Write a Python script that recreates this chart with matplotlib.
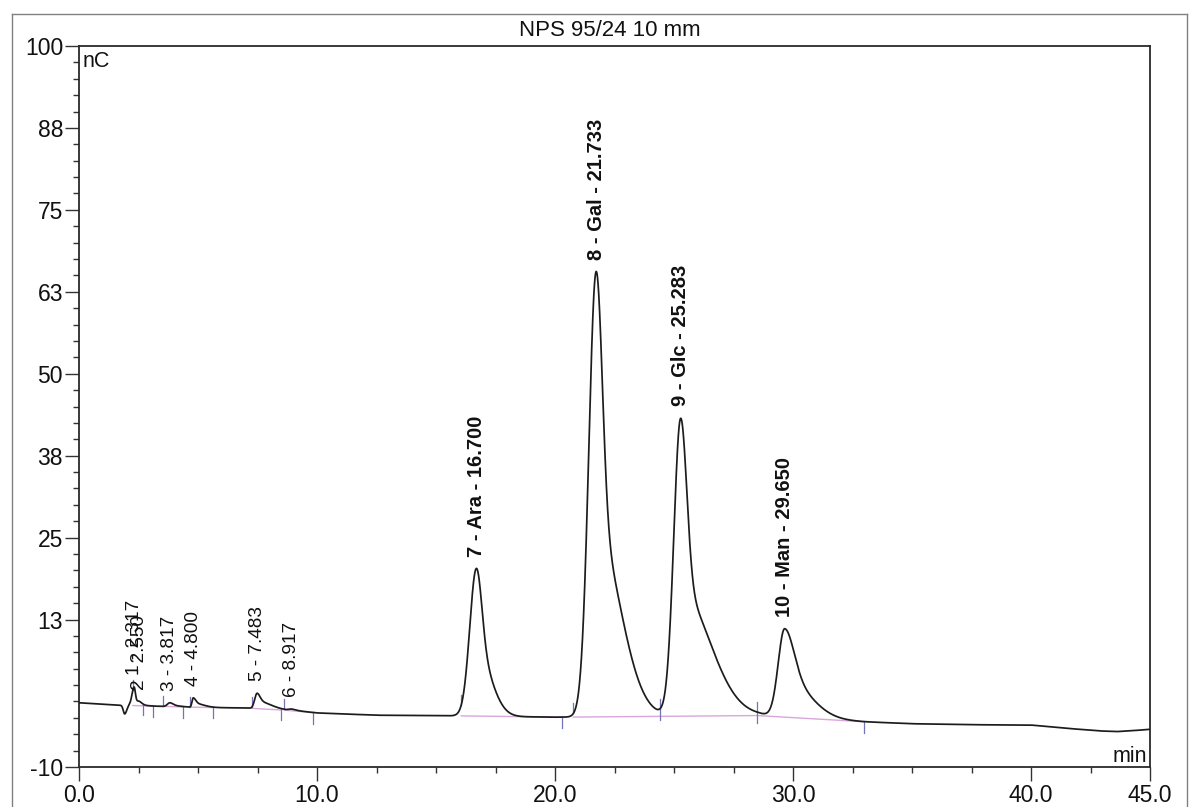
import numpy as np
import matplotlib
matplotlib.use("Agg")
import matplotlib.pyplot as plt
from matplotlib.lines import Line2D
from matplotlib import font_manager as fm
from matplotlib.ticker import FixedLocator, MultipleLocator

plt.rcParams["font.family"] = ["Liberation Sans", "DejaVu Sans"]

# ---- chromatogram data -------------------------------------------------
title = "NPS 95/24 10 mm"

# detector baseline drift (min, nC)
baseline_times = [0, 1.5, 3, 5, 7, 9, 10, 12.5, 16, 20, 24, 28.5, 33, 35, 37.5,
                  40, 41.5, 42.9, 43.6, 44.3, 45]
baseline_levels = [-0.2, -0.55, -0.7, -0.9, -1.0, -1.4, -1.75, -2.1, -2.2, -2.4,
                   -2.3, -2.15, -3.1, -3.4, -3.55, -3.6, -4.1, -4.5, -4.6, -4.45,
                   -4.25]

# peak table: retention time, apex signal, label (first entry = injection dip)
peak_times = [1.92, 2.317, 2.550, 3.817, 4.800, 7.483, 8.917,
              16.700, 21.733, 25.283, 29.650]
peak_apex = [-1.9, 2.2, 0.0, -0.2, 0.55, 1.25, -1.15,
             20.3, 65.6, 43.2, 11.1]
peak_labels = ["", "1 - 2.317", "2 - 2.550", "3 - 3.817", "4 - 4.800",
               "5 - 7.483", "6 - 8.917", "7 - Ara - 16.700",
               "8 - Gal - 21.733", "9 - Glc - 25.283", "10 - Man - 29.650"]
# peak shape: front width, back width, tail fraction, tail width (min)
peak_front = [0.06, 0.09, 0.08, 0.10, 0.05, 0.10, 0.10, 0.28, 0.31, 0.29, 0.27]
peak_back = [0.08, 0.05, 0.10, 0.12, 0.10, 0.12, 0.15, 0.22, 0.25, 0.25, 0.38]
tail_frac = [0.0, 0.25, 0.30, 0.40, 0.45, 0.50, 0.40, 0.45, 0.42, 0.42, 0.45]
tail_width = [0.10, 0.20, 0.30, 0.35, 0.40, 0.55, 0.40, 0.58, 0.98, 1.20, 1.00]

# integration events (min)
start_marks = [2.26, 3.55, 4.67, 7.26, 8.63, 16.06, 20.77, 24.40, 28.50]
end_marks = [2.71, 3.13, 4.39, 5.65, 8.49, 9.83, 20.30, 24.40, 28.50, 33.00]
integ_from = [2.26, 3.55, 4.67, 7.26, 8.63, 16.06, 20.77, 28.50]
integ_to = [3.13, 4.39, 5.65, 8.49, 9.83, 20.30, 28.50, 33.00]

# axis ticks
x_major = [0, 10, 20, 30, 40, 45]
x_major_labels = ["0.0", "10.0", "20.0", "30.0", "40.0", "45.0"]
y_major = [100, 87.5, 75, 62.5, 50, 37.5, 25, 12.5, -10]
y_major_labels = ["100", "88", "75", "63", "50", "38", "25", "13", "-10"]


# ---- build the trace ---------------------------------------------------
def shape(t, rt, sl, sr, f, st):
    dt = np.asarray(t, dtype=float) - rt
    front = np.exp(-0.5 * (dt / sl) ** 2)
    back = (1 - f) * np.exp(-0.5 * (dt / sr) ** 2) + f * np.exp(-0.5 * (dt / st) ** 2)
    return np.where(dt < 0, front, back)


n = len(peak_times)
params = list(zip(peak_times, peak_front, peak_back, tail_frac, tail_width))
A = np.array([[shape(peak_times[i], *params[j]) for j in range(n)] for i in range(n)])
rhs = np.array(peak_apex) - np.interp(peak_times, baseline_times, baseline_levels)
heights = np.linalg.solve(A, rhs)

t = np.linspace(0, 45, 9001)
drift = np.interp(t, baseline_times, baseline_levels)
signal = drift.copy()
for h, p in zip(heights, params):
    signal = signal + h * shape(t, *p)

# ---- figure ------------------------------------------------------------
W, H = 1190, 807
fig = plt.figure(figsize=(W / 100, H / 100), dpi=100)
ax = fig.add_axes([79 / W, 1 - 767 / H, (1150 - 79) / W, (767 - 46) / H])

ax.plot(t, signal, color="#1c1c1c", lw=1.25, zorder=3)

# integration baselines
for a, b in zip(integ_from, integ_to):
    ax.plot([a, b],
            [np.interp(a, baseline_times, baseline_levels),
             np.interp(b, baseline_times, baseline_levels)],
            color="#d9a6dd", lw=1.0, zorder=2)

# integration event marks
for m in start_marks:
    y0 = np.interp(m, t, signal)
    ax.plot([m, m], [y0, y0 + 1.55], color="#7474b8", lw=0.9, zorder=2)
for m in end_marks:
    y0 = np.interp(m, t, signal)
    ax.plot([m, m], [y0, y0 - 1.7], color="#7474b8", lw=0.9, zorder=2)

# peak labels
has_narrow = any(f.name == "Liberation Sans Narrow" for f in fm.fontManager.ttflist)
for rt, apex, lab in zip(peak_times, peak_apex, peak_labels):
    if not lab:
        continue
    if any(c.isalpha() for c in lab):
        if has_narrow:
            kw = dict(family=["Liberation Sans Narrow", "DejaVu Sans"],
                      fontsize=17.5, fontweight="bold")
        else:
            kw = dict(fontsize=14.5, fontweight="bold")
    else:
        kw = dict(fontsize=13.7)
    ax.annotate(lab, xy=(rt, apex), xytext=(0, 8.5), textcoords="offset points",
                rotation=90, ha="center", va="bottom", color="#111111", **kw)

ax.set_xlim(0, 45)
ax.set_ylim(-10, 100)

ax.xaxis.set_major_locator(FixedLocator(x_major))
ax.set_xticklabels(x_major_labels)
ax.xaxis.set_minor_locator(MultipleLocator(2.5))
ax.yaxis.set_major_locator(FixedLocator(y_major))
ax.set_yticklabels(y_major_labels)
ax.yaxis.set_minor_locator(MultipleLocator(2.5))

ax.tick_params(axis="both", which="major", direction="out", length=10, width=1.0,
               color="#333333", labelsize=16.5, labelcolor="#111111")
ax.tick_params(axis="both", which="minor", direction="out", length=4.5, width=1.0,
               color="#333333")
ax.tick_params(axis="y", which="major", pad=1.5)
ax.tick_params(axis="x", which="major", pad=2)

for s in ax.spines.values():
    s.set_color("#2a2a2a")
    s.set_linewidth(1.3)

ax.text(0.003, 0.993, "nC", transform=ax.transAxes, ha="left", va="top",
        fontsize=15.5, color="#111111")
ax.text(0.997, 0.007, "min", transform=ax.transAxes, ha="right", va="baseline",
        fontsize=15.5, color="#111111")

fig.text(610 / W, 1 - 31 / H, title, ha="center", va="center",
         fontsize=16, color="#111111")

# printout frame
frame_kw = dict(color="#808080", lw=1.0, transform=fig.transFigure)
fig.add_artist(Line2D([11.5 / W, 11.5 / W], [0, 1 - 14 / H], **frame_kw))
fig.add_artist(Line2D([11.5 / W, 1187 / W], [1 - 14 / H, 1 - 14 / H], **frame_kw))
fig.add_artist(Line2D([1187 / W, 1187 / W], [0, 1 - 14 / H], **frame_kw))

fig.savefig("out.png", dpi=100, facecolor="white")
